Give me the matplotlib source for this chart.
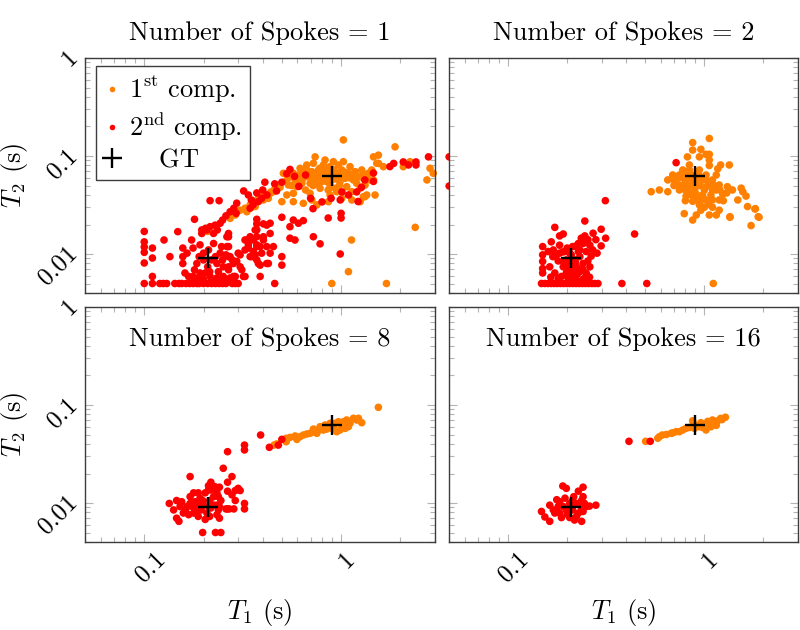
import numpy as np
import matplotlib
matplotlib.use('Agg')
import matplotlib.pyplot as plt
from matplotlib.lines import Line2D
from matplotlib.ticker import FixedLocator, FixedFormatter, LogLocator, NullFormatter
import matplotlib.transforms as mtrans

plt.rcParams['font.family'] = ['cmr10', 'DejaVu Serif']
plt.rcParams['mathtext.fontset'] = 'cm'
plt.rcParams['axes.formatter.use_mathtext'] = True

# ---------------- data (T1 [s], T2 [s]) ----------------
spokes = [1, 2, 8, 16]
gt_t1 = [0.21, 0.9]
gt_t2 = [0.009, 0.062]
x_ticks = [0.1, 1]
x_ticklabels = ['0.1', '1']
y_ticks = [0.01, 0.1, 1]
y_ticklabels = ['0.01', '0.1', '1']

spk1_comp1 = [
    (0.307, 0.028), (0.325, 0.0293), (0.345, 0.0317), (0.362, 0.0343), (0.38, 0.037), (0.395, 0.0384),
    (0.419, 0.040), (0.436, 0.0416), (0.453, 0.0432), (0.47, 0.045), (0.49, 0.048), (0.332, 0.027),
    (0.366, 0.0305), (0.403, 0.0356), (0.427, 0.037), (0.273, 0.0231), (0.21, 0.017), (0.29, 0.025),
    (0.35, 0.0305), (0.44, 0.043), (0.46, 0.046), (0.39, 0.036),
    (0.509, 0.0666), (0.53, 0.057), (0.54, 0.0506), (0.55, 0.0615), (0.572, 0.0666), (0.584, 0.057),
    (0.596, 0.0486), (0.607, 0.064), (0.619, 0.0749), (0.632, 0.0527), (0.643, 0.0592), (0.656, 0.072),
    (0.669, 0.0809), (0.682, 0.0615), (0.696, 0.0527), (0.71, 0.0692), (0.723, 0.0843), (0.738, 0.098),
    (0.753, 0.057), (0.767, 0.072), (0.782, 0.0468), (0.798, 0.064), (0.813, 0.0809), (0.829, 0.091),
    (0.846, 0.0547), (0.862, 0.0692), (0.879, 0.0778), (0.897, 0.057), (0.914, 0.0875), (0.932, 0.0468),
    (0.951, 0.0666), (0.969, 0.0809), (0.988, 0.0547), (1.008, 0.072), (1.027, 0.0875), (1.048, 0.0592),
    (1.068, 0.0486), (1.089, 0.0666), (1.11, 0.0778), (1.133, 0.0432), (1.155, 0.057), (1.178, 0.0692),
    (1.2, 0.0527), (1.225, 0.0615), (1.249, 0.0468), (1.273, 0.072), (1.298, 0.0592), (1.324, 0.0506),
    (1.35, 0.04), (1.376, 0.0666), (1.403, 0.057), (1.431, 0.072), (1.46, 0.098), (1.518, 0.0843),
    (1.488, 0.04), (1.547, 0.102), (1.64, 0.0778), (1.027, 0.146), (0.71, 0.0356), (0.572, 0.0342),
    (0.643, 0.0329), (0.753, 0.0317), (0.862, 0.0342), (1.008, 0.037), (1.133, 0.0356), (1.298, 0.0384),
    (0.5, 0.0342), (0.53, 0.04), (0.572, 0.0416), (0.696, 0.0416), (0.879, 0.04), (0.951, 0.0432),
    (0.6, 0.06), (0.65, 0.065), (0.7, 0.06), (0.75, 0.065), (0.8, 0.055), (0.85, 0.06), (0.9, 0.065),
    (0.95, 0.058), (1.0, 0.062), (0.68, 0.07), (0.78, 0.075), (0.88, 0.05), (1.05, 0.068), (0.62, 0.055),
    (0.72, 0.05), (0.82, 0.068), (0.92, 0.072), (0.98, 0.05), (1.1, 0.06), (0.56, 0.05), (0.66, 0.045),
    (0.76, 0.052), (0.86, 0.045), (1.15, 0.065), (1.2, 0.06), (1.3, 0.065), (0.97, 0.065), (0.74, 0.058),
    (0.64, 0.068), (0.84, 0.075),
    (1.88, 0.124), (1.55, 0.084), (2.38, 0.0187), (1.13, 0.0139), (1.09, 0.0066), (0.897, 0.005),
    (1.7, 0.005), (2.83, 0.0749), (2.73, 0.057), (2.94, 0.0666), (2.07, 0.0778), (1.46, 0.057),
    (1.32, 0.0384), (1.25, 0.0342), (2.24, 0.0875),
]

spk1_comp2 = [
    # clipped lower bound
    (0.1, 0.005), (0.11, 0.005), (0.12, 0.005), (0.125, 0.005), (0.13, 0.005), (0.143, 0.005),
    (0.15, 0.005), (0.155, 0.005), (0.163, 0.005), (0.17, 0.005), (0.177, 0.005), (0.185, 0.005),
    (0.19, 0.005), (0.2, 0.005), (0.21, 0.005), (0.22, 0.005), (0.23, 0.005), (0.24, 0.005),
    (0.25, 0.005), (0.26, 0.005), (0.28, 0.005), (0.29, 0.005), (0.3, 0.005), (0.46, 0.005),
    # left column
    (0.1, 0.017), (0.1, 0.0133), (0.1, 0.0118), (0.1, 0.0104), (0.1, 0.0081), (0.11, 0.0115),
    (0.11, 0.0091), (0.11, 0.0059), (0.126, 0.0139), (0.135, 0.0094), (0.148, 0.0169),
    # cluster near GT
    (0.157, 0.0115), (0.157, 0.0094), (0.157, 0.008), (0.165, 0.0102), (0.174, 0.0139), (0.177, 0.0115),
    (0.185, 0.008), (0.192, 0.0124), (0.196, 0.0162), (0.2, 0.0102), (0.204, 0.0064), (0.208, 0.0176),
    (0.212, 0.011), (0.225, 0.0162), (0.225, 0.0128), (0.234, 0.008), (0.238, 0.0066), (0.243, 0.0102),
    (0.247, 0.0119), (0.252, 0.0074), (0.268, 0.015), (0.268, 0.0119), (0.268, 0.0094), (0.268, 0.0074),
    (0.284, 0.008), (0.29, 0.0059), (0.3, 0.0102), (0.307, 0.0074), (0.319, 0.0059), (0.332, 0.0139),
    (0.338, 0.0115), (0.345, 0.0094), (0.358, 0.0139), (0.366, 0.0176), (0.373, 0.0119), (0.38, 0.008),
    (0.388, 0.0059), (0.395, 0.0102), (0.403, 0.015), (0.419, 0.0119), (0.427, 0.008), (0.436, 0.0102),
    (0.453, 0.0119), (0.161, 0.0064), (0.168, 0.0059), (0.177, 0.0059), (0.189, 0.0057), (0.192, 0.0064),
    (0.216, 0.0059), (0.234, 0.0057), (0.252, 0.0059), (0.273, 0.0057), (0.2, 0.0087), (0.22, 0.0087),
    (0.19, 0.0094), (0.21, 0.0074), (0.23, 0.0094), (0.18, 0.0069), (0.215, 0.0066), (0.25, 0.0087),
    (0.26, 0.0098), (0.28, 0.0087), (0.2, 0.0055), (0.22, 0.0054), (0.245, 0.0055), (0.18, 0.0055),
    (0.26, 0.0055), (0.285, 0.0054),
    # middle scatter
    (0.373, 0.0226), (0.373, 0.0203), (0.373, 0.0176), (0.373, 0.015), (0.403, 0.0203), (0.419, 0.0197),
    (0.436, 0.0206), (0.436, 0.0162), (0.403, 0.0139), (0.388, 0.0119), (0.373, 0.0124), (0.345, 0.015),
    (0.325, 0.0139), (0.338, 0.0124), (0.358, 0.0106), (0.366, 0.0098), (0.373, 0.0087), (0.352, 0.0094),
    (0.388, 0.0077), (0.419, 0.008), (0.325, 0.011), (0.307, 0.0098), (0.295, 0.0084), (0.313, 0.0069),
    (0.325, 0.0059), (0.284, 0.0059), (0.268, 0.0069), (0.273, 0.0094), (0.263, 0.0119), (0.263, 0.015),
    (0.268, 0.0162), (0.5, 0.0237), (0.5, 0.0094), (0.5, 0.0077), (0.55, 0.019), (0.572, 0.0222),
    (0.607, 0.0206), (0.643, 0.0219), (0.55, 0.0145), (0.583, 0.0139), (0.723, 0.015), (0.782, 0.0127),
    # diagonal band
    (0.205, 0.0183), (0.216, 0.019), (0.229, 0.0197), (0.235, 0.0176), (0.243, 0.0206), (0.25, 0.0222),
    (0.26, 0.0245), (0.273, 0.027), (0.285, 0.0293), (0.295, 0.033), (0.293, 0.026), (0.196, 0.0176),
    (0.18, 0.0226), (0.216, 0.035), (0.24, 0.035),
    (0.32, 0.044), (0.338, 0.040), (0.35, 0.0356), (0.357, 0.0317), (0.373, 0.042), (0.38, 0.0343),
    (0.395, 0.037), (0.4, 0.045), (0.42, 0.040), (0.345, 0.0293),
    (0.41, 0.054), (0.46, 0.052), (0.47, 0.044), (0.5, 0.054), (0.53, 0.066), (0.55, 0.073),
    (0.58, 0.062), (0.61, 0.049), (0.66, 0.064), (0.70, 0.037), (0.72, 0.029), (0.80, 0.034),
    (0.86, 0.0233), (0.89, 0.037), (0.99, 0.0356), (1.0, 0.026), (1.0, 0.0233), (0.99, 0.01),
    (1.01, 0.043), (1.09, 0.040), (1.2, 0.043), (1.22, 0.0343), (1.27, 0.048), (1.32, 0.057),
    (1.46, 0.067), (1.46, 0.055), (1.77, 0.078), (1.85, 0.084), (2.07, 0.087), (2.2, 0.081),
    (2.4, 0.087), (2.4, 0.081), (2.78, 0.098), (3.54, 0.098), (3.54, 0.0494),
]

spk2_comp1 = [
    (0.536, 0.0432), (0.59, 0.045), (0.651, 0.0432), (0.651, 0.057), (0.69, 0.064), (0.718, 0.057),
    (0.746, 0.064), (0.776, 0.072), (0.807, 0.064), (0.839, 0.081), (0.872, 0.057), (0.907, 0.064),
    (0.943, 0.072), (0.98, 0.057), (1.02, 0.064), (1.06, 0.0506), (1.10, 0.057), (1.15, 0.064),
    (1.19, 0.0506), (1.06, 0.151), (0.872, 0.137), (0.872, 0.115), (0.96, 0.117), (1.02, 0.104),
    (1.06, 0.104), (0.82, 0.098), (0.943, 0.098), (1.06, 0.091), (1.06, 0.08), (1.21, 0.081),
    (1.34, 0.081), (1.17, 0.074), (1.31, 0.0486), (1.39, 0.045), (1.54, 0.047), (1.57, 0.0432),
    (1.63, 0.039), (1.48, 0.0356), (1.66, 0.0305), (1.35, 0.024), (1.73, 0.0195), (1.82, 0.029),
    (1.88, 0.024), (1.19, 0.028), (1.15, 0.025), (1.06, 0.025), (0.96, 0.028), (0.872, 0.0222),
    (0.79, 0.0258), (0.91, 0.025), (1.0, 0.030), (1.10, 0.0356), (0.96, 0.039), (0.872, 0.0345),
    (0.807, 0.039), (0.746, 0.045), (0.718, 0.052), (0.69, 0.058), (0.839, 0.072), (0.907, 0.0486),
    (1.02, 0.0486), (1.15, 0.045), (1.24, 0.041), (1.19, 0.0356), (1.02, 0.0356), (0.943, 0.0317),
    (1.9, 0.0237), (1.81, 0.0288), (1.35, 0.0237),
    (0.75, 0.05), (0.8, 0.055), (0.85, 0.05), (0.9, 0.055), (0.95, 0.05), (1.0, 0.045), (0.85, 0.045),
    (0.9, 0.042), (0.8, 0.045), (0.75, 0.06), (0.85, 0.065), (0.95, 0.062), (1.05, 0.055), (1.1, 0.045),
    (1.0, 0.06), (0.92, 0.05), (0.88, 0.06), (0.82, 0.06), (0.98, 0.04), (1.08, 0.04), (0.78, 0.05),
    (0.7, 0.05), (0.9, 0.036), (0.95, 0.034), (1.05, 0.032), (0.86, 0.04), (1.12, 0.05), (1.2, 0.045),
    (1.25, 0.035), (1.3, 0.042), (1.1, 0.03), (0.8, 0.035), (1.11, 0.005),
]

spk2_comp2 = [
    (0.148, 0.005), (0.154, 0.005), (0.16, 0.005), (0.166, 0.005), (0.172, 0.005), (0.178, 0.005),
    (0.185, 0.005), (0.192, 0.005), (0.199, 0.005), (0.206, 0.005), (0.214, 0.005), (0.222, 0.005),
    (0.23, 0.005), (0.239, 0.005), (0.248, 0.005), (0.257, 0.005), (0.267, 0.005), (0.277, 0.005),
    (0.287, 0.005), (0.38, 0.005), (0.509, 0.005),
    (0.15, 0.0119), (0.15, 0.0098), (0.15, 0.0084), (0.15, 0.0071), (0.15, 0.0064),
    (0.173, 0.0187), (0.183, 0.0153), (0.191, 0.016), (0.246, 0.0217), (0.298, 0.0179), (0.313, 0.035),
    (0.314, 0.0145), (0.441, 0.016), (0.271, 0.0163), (0.246, 0.0153), (0.236, 0.0145), (0.298, 0.0121),
    (0.284, 0.0102), (0.261, 0.0123), (0.25, 0.0106), (0.232, 0.011), (0.228, 0.0128), (0.213, 0.0119),
    (0.206, 0.0102), (0.198, 0.0087), (0.191, 0.0074), (0.198, 0.0064), (0.213, 0.0059), (0.232, 0.0066),
    (0.25, 0.0064), (0.261, 0.0074), (0.241, 0.008), (0.223, 0.0074), (0.206, 0.0069), (0.183, 0.0102),
    (0.169, 0.0094), (0.163, 0.0074), (0.173, 0.0064), (0.183, 0.0123), (0.16, 0.0106), (0.166, 0.0133),
    (0.219, 0.0087), (0.232, 0.0094), (0.191, 0.0084), (0.202, 0.0071), (0.21, 0.0098), (0.228, 0.0106),
    (0.195, 0.0106), (0.241, 0.0128), (0.187, 0.0059), (0.202, 0.0057), (0.219, 0.0064), (0.246, 0.0057),
    (0.223, 0.0054), (0.718, 0.0855),
    (0.2, 0.0075), (0.21, 0.008), (0.22, 0.0082), (0.2, 0.0065), (0.215, 0.007), (0.225, 0.0062),
    (0.205, 0.0058), (0.24, 0.007), (0.255, 0.0085), (0.265, 0.0095), (0.27, 0.011), (0.28, 0.014),
    (0.255, 0.014), (0.22, 0.012), (0.2, 0.0115), (0.19, 0.0105), (0.175, 0.0095), (0.17, 0.011),
    (0.18, 0.0085), (0.21, 0.0055), (0.24, 0.0055), (0.26, 0.0058), (0.18, 0.0056), (0.165, 0.0058),
]

spk8_comp1 = [
    (0.457, 0.039), (0.526, 0.0457), (0.526, 0.0422), (0.584, 0.0483), (0.596, 0.0446), (0.643, 0.0494),
    (0.696, 0.0514), (0.723, 0.0534), (0.767, 0.0556), (0.798, 0.0578), (0.829, 0.0625), (0.846, 0.0568),
    (0.879, 0.065), (0.914, 0.06), (0.951, 0.0534), (0.969, 0.0675), (1.008, 0.0625), (1.048, 0.0578),
    (1.068, 0.0703), (1.11, 0.065), (1.155, 0.0732), (1.2, 0.0703), (1.273, 0.066), (1.547, 0.0947),
    (0.813, 0.0556), (0.753, 0.0514), (0.669, 0.0506), (0.619, 0.0475), (0.55, 0.0467), (0.932, 0.065),
    (0.988, 0.0556), (1.027, 0.0675), (1.089, 0.06), (1.225, 0.0732), (0.897, 0.0578), (0.862, 0.061),
    (0.723, 0.0568), (0.782, 0.06), (0.47, 0.040),
]

spk8_comp2 = [
    (0.39, 0.0494), (0.323, 0.039), (0.323, 0.0348), (0.265, 0.0334), (0.432, 0.037), (0.48, 0.039),
    (0.5, 0.0446), (0.252, 0.0226), (0.171, 0.0186), (0.218, 0.0163), (0.279, 0.0186), (0.265, 0.0163),
    (0.241, 0.0145), (0.307, 0.0134), (0.29, 0.0134), (0.279, 0.0121), (0.323, 0.0099), (0.323, 0.0087),
    (0.265, 0.0087), (0.285, 0.0087), (0.134, 0.0099), (0.198, 0.005), (0.23, 0.005), (0.245, 0.005),
    (0.146, 0.0106), (0.155, 0.0103), (0.141, 0.0085), (0.146, 0.007), (0.15, 0.0065), (0.158, 0.0079),
    (0.165, 0.0092), (0.171, 0.0116), (0.178, 0.0127), (0.181, 0.0103), (0.185, 0.0085), (0.188, 0.0073),
    (0.192, 0.0112), (0.198, 0.0099), (0.204, 0.0127), (0.208, 0.0079), (0.212, 0.0136), (0.215, 0.0106),
    (0.218, 0.0089), (0.225, 0.0116), (0.228, 0.0147), (0.234, 0.0076), (0.238, 0.0085), (0.241, 0.007),
    (0.238, 0.0116), (0.218, 0.0136), (0.175, 0.0092), (0.168, 0.0076), (0.152, 0.0092), (0.162, 0.0085),
    (0.178, 0.0079), (0.195, 0.0085), (0.204, 0.0068), (0.215, 0.0073), (0.185, 0.0099), (0.198, 0.0106),
    (0.192, 0.0092), (0.171, 0.0099), (0.212, 0.0092), (0.225, 0.0095), (0.234, 0.0095), (0.26, 0.0087),
    (0.27, 0.0087), (0.3, 0.0141), (0.29, 0.0106), (0.245, 0.0106), (0.241, 0.0092), (0.188, 0.0127),
    (0.234, 0.0127), (0.212, 0.015), (0.265, 0.0132),
]

spk16_comp1 = [
    (0.502, 0.0426), (0.579, 0.0458), (0.61, 0.0494), (0.677, 0.0514), (0.718, 0.0534), (0.776, 0.0556),
    (0.839, 0.059), (0.872, 0.069), (0.907, 0.062), (0.96, 0.066), (1.02, 0.0556), (1.06, 0.065),
    (1.1, 0.0703), (1.15, 0.062), (1.21, 0.073), (1.28, 0.075), (0.807, 0.0578), (0.746, 0.0534),
    (0.69, 0.052), (0.64, 0.050), (0.59, 0.0475), (0.943, 0.06), (0.98, 0.059), (1.04, 0.068),
    (1.12, 0.066), (1.17, 0.069), (1.23, 0.071), (0.89, 0.0578), (1.0, 0.062), (1.08, 0.06),
]

spk16_comp2 = [
    (0.413, 0.0426), (0.53, 0.0426),
    (0.148, 0.0082), (0.154, 0.0072), (0.163, 0.0065), (0.163, 0.0095), (0.17, 0.0085), (0.177, 0.0108),
    (0.18, 0.0092), (0.183, 0.0079), (0.19, 0.0149), (0.198, 0.0141), (0.195, 0.0112), (0.2, 0.0077),
    (0.206, 0.0099), (0.213, 0.0085), (0.216, 0.0116), (0.223, 0.0073), (0.228, 0.0132), (0.232, 0.0099),
    (0.237, 0.0065), (0.241, 0.0145), (0.241, 0.0116), (0.241, 0.0082), (0.25, 0.0092), (0.26, 0.0093),
    (0.28, 0.0095), (0.191, 0.0092), (0.198, 0.0085), (0.21, 0.0092), (0.223, 0.0099), (0.173, 0.0079),
    (0.183, 0.0103), (0.213, 0.0106), (0.228, 0.0079), (0.237, 0.0106), (0.206, 0.0071), (0.237, 0.0089),
    (0.245, 0.0099), (0.218, 0.0067), (0.187, 0.0071),
]

comp1_sets = [spk1_comp1, spk2_comp1, spk8_comp1, spk16_comp1]
comp2_sets = [spk1_comp2, spk2_comp2, spk8_comp2, spk16_comp2]

# ---------------- style ----------------
ORANGE = '#ff8000'
RED = '#ff0000'
TICKC = '#b4b4b4'
SPINEC = '#3c3c3c'
FS = 19
MS = 30

fig = plt.figure(figsize=(8, 6.3), dpi=100)
W, H = 800.0, 630.0


def add_ax(l, t, w, h):
    return fig.add_axes([l / W, 1 - (t + h) / H, w / W, h / H])


axes = [add_ax(85, 58, 350, 235), add_ax(449, 58, 349, 235),
        add_ax(85, 307, 350, 235), add_ax(449, 307, 349, 235)]

for i, ax in enumerate(axes):
    c1 = np.array(comp1_sets[i])
    c2 = np.array(comp2_sets[i])
    ax.set_xscale('log')
    ax.set_yscale('log')
    ax.scatter(c1[:, 0], c1[:, 1], s=MS, color=ORANGE, edgecolors='none', zorder=2, clip_on=False)
    ax.scatter(c2[:, 0], c2[:, 1], s=MS, color=RED, edgecolors='none', zorder=3, clip_on=False)
    ax.plot(gt_t1, gt_t2, linestyle='none', marker='+', ms=15, mew=1.7, color='black', zorder=5)
    ax.set_xlim(0.05, 3)
    ax.set_ylim(0.004, 1)

    ax.xaxis.set_major_locator(FixedLocator(x_ticks))
    ax.yaxis.set_major_locator(FixedLocator(y_ticks))
    ax.xaxis.set_minor_locator(LogLocator(base=10, subs=np.arange(2, 10)))
    ax.yaxis.set_minor_locator(LogLocator(base=10, subs=np.arange(2, 10)))
    ax.xaxis.set_minor_formatter(NullFormatter())
    ax.yaxis.set_minor_formatter(NullFormatter())
    ax.xaxis.set_major_formatter(FixedFormatter(x_ticklabels))
    ax.yaxis.set_major_formatter(FixedFormatter(y_ticklabels))
    ax.tick_params(which='both', direction='in', top=True, right=True, color=TICKC,
                   width=0.8, labelsize=18)
    ax.tick_params(which='major', length=6)
    ax.tick_params(which='minor', length=3.5)
    ax.tick_params(axis='x', pad=4)
    ax.tick_params(axis='y', pad=2)
    for sp in ax.spines.values():
        sp.set_color(SPINEC)
        sp.set_linewidth(1.0)

    if i < 2:
        ax.tick_params(labelbottom=False)
    else:
        off = mtrans.ScaledTranslation(6 / 100, 0, fig.dpi_scale_trans)
        for lab in ax.get_xticklabels():
            lab.set_rotation(45)
            lab.set_transform(lab.get_transform() + off)
    if i % 2 == 1:
        ax.tick_params(labelleft=False)
    else:
        offy = mtrans.ScaledTranslation(0, 3 / 100, fig.dpi_scale_trans)
        for lab in ax.get_yticklabels():
            lab.set_rotation(45)
            lab.set_transform(lab.get_transform() + offy)

    title = 'Number of Spokes = %d' % spokes[i]
    if i < 2:
        ax.text(0.5, 1.106, title, transform=ax.transAxes, ha='center', va='center', fontsize=FS)
    else:
        ax.text(0.5, 0.864, title, transform=ax.transAxes, ha='center', va='center', fontsize=FS)

# axis labels
for xc in (260, 623.5):
    fig.text(xc / W, 1 - 613 / H, r'$T_1$ (s)', ha='center', va='center', fontsize=FS)
for yc in (175.5, 424.5):
    fig.text(14 / W, 1 - yc / H, r'$T_2$ (s)', ha='center', va='center', rotation=90, fontsize=FS)

# legend
handles = [Line2D([], [], ls='none', marker='o', ms=4, color=ORANGE, mec='none'),
           Line2D([], [], ls='none', marker='o', ms=4, color=RED, mec='none'),
           Line2D([], [], ls='none', marker='+', ms=15, mew=1.7, color='black')]
labels = [r'$\mathrm{1^{st}\ comp.}$', r'$\mathrm{2^{nd}\ comp.}$', r'$\quad\;\mathrm{GT}$']
leg = axes[0].legend(handles, labels, loc='upper left', bbox_to_anchor=(0.031, 0.967),
                     fontsize=FS, frameon=True, fancybox=False, edgecolor=SPINEC, framealpha=1,
                     borderpad=0.3, labelspacing=0.2, handlelength=0.6, handletextpad=0.35,
                     borderaxespad=0)
leg.get_frame().set_linewidth(1.0)
leg.set_zorder(10)

fig.savefig('out.png', dpi=100)
